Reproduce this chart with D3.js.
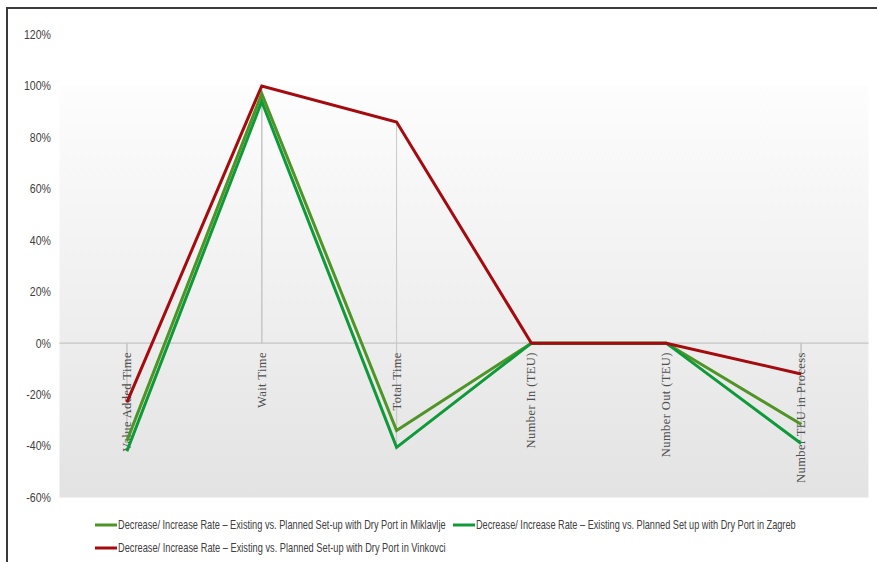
<!DOCTYPE html>
<html>
<head>
<meta charset="utf-8">
<script src="https://cdn.jsdelivr.net/npm/d3@7"></script>
<style>
  html, body { margin: 0; padding: 0; background: #fff; }
  svg { display: block; }
</style>
</head>
<body>
<svg id="chart" width="877" height="562"></svg>
<script>
// Categories along the x axis
const categories = [
  "Value Added Time",
  "Wait Time",
  "Total Time",
  "Number In (TEU)",
  "Number Out (TEU)",
  "Number TEU in Process"
];

// Decrease / increase rates (%) per series
const miklavljeValues = [-38, 97, -34, 0, 0, -31.5];
const zagrebValues    = [-42, 94, -40.5, 0, 0, -39];
const vinkovciValues  = [-23, 100, 86, 0, 0, -12];

const seriesNames = [
  "Decrease/ Increase Rate \u2013 Existing vs. Planned Set-up with Dry Port in Miklavlje",
  "Decrease/ Increase Rate \u2013 Existing vs. Planned Set up with Dry Port in Zagreb",
  "Decrease/ Increase Rate \u2013 Existing vs. Planned Set-up with Dry Port in Vinkovci"
];

const yTickValues = [-60, -40, -20, 0, 20, 40, 60, 80, 100, 120];

const series = [
  { name: seriesNames[0], values: miklavljeValues, color: "#4f9426" },
  { name: seriesNames[1], values: zagrebValues,    color: "#0f9a3a" },
  { name: seriesNames[2], values: vinkovciValues,  color: "#a50a0e" }
];

const svg = d3.select("#chart");

// Outer frame
svg.append("rect")
  .attr("x", 7).attr("y", 8)
  .attr("width", 900).attr("height", 600)
  .attr("fill", "none")
  .attr("stroke", "#3a3a3a")
  .attr("stroke-width", 2);

const plot = { left: 59.5, right: 868.5 };

const x = d3.scalePoint()
  .domain(categories)
  .range([plot.left, plot.right])
  .padding(0.5);

const y = d3.scaleLinear()
  .domain([-60, 120])
  .range([497.5, 34.5]);

// Plot-area background: light gradient from the 100% level down
const defs = svg.append("defs");
const grad = defs.append("linearGradient")
  .attr("id", "bg").attr("x1", 0).attr("y1", 0).attr("x2", 0).attr("y2", 1);
grad.append("stop").attr("offset", "0%").attr("stop-color", "#fdfdfd");
grad.append("stop").attr("offset", "100%").attr("stop-color", "#e3e3e3");

svg.append("rect")
  .attr("x", plot.left)
  .attr("y", y(100))
  .attr("width", plot.right - plot.left)
  .attr("height", y(-60) - y(100))
  .attr("fill", "url(#bg)");

// Y axis labels
const yAxis = d3.axisLeft(y)
  .tickValues(yTickValues)
  .tickFormat(d => d + "%")
  .tickSize(0)
  .tickPadding(0);

const yG = svg.append("g")
  .attr("transform", `translate(${51},0)`)
  .call(yAxis);
yG.select(".domain").remove();
yG.selectAll("text")
  .attr("fill", "#404040")
  .style("font-family", "'Liberation Sans', sans-serif")
  .style("font-size", "12px")
  .attr("transform", "scale(0.88,1)")
  .attr("x", 0);

// Drop lines from each point to the zero line
const drops = [];
series.forEach(s => s.values.forEach((v, i) => drops.push({ c: categories[i], v })));
svg.append("g")
  .selectAll("line")
  .data(drops)
  .join("line")
  .attr("x1", d => x(d.c)).attr("x2", d => x(d.c))
  .attr("y1", y(0)).attr("y2", d => y(d.v))
  .attr("stroke", "#c8c8c8")
  .attr("stroke-width", 1);

// Zero line (category axis)
svg.append("line")
  .attr("x1", plot.left).attr("x2", plot.right)
  .attr("y1", y(0)).attr("y2", y(0))
  .attr("stroke", "#c4c4c4")
  .attr("stroke-width", 1.2);

// Category labels, rotated
svg.append("g")
  .selectAll("text")
  .data(categories)
  .join("text")
  .attr("transform", d => `translate(${x(d) + 4},${y(0) + 9}) rotate(-90)`)
  .attr("text-anchor", "end")
  .attr("fill", "#505050")
  .style("font-family", "'Liberation Serif', serif")
  .style("font-size", "12.5px")
  .style("letter-spacing", "0.4px")
  .text(d => d);

// Series lines
const line = d3.line()
  .x((d, i) => x(categories[i]))
  .y(d => y(d));

svg.append("g")
  .selectAll("path")
  .data(series)
  .join("path")
  .attr("d", d => line(d.values))
  .attr("fill", "none")
  .attr("stroke", d => d.color)
  .attr("stroke-width", 3)
  .attr("stroke-linejoin", "miter");

// Legend
const legendItems = [
  { s: series[0], x: 95, y: 525, len: 328 },
  { s: series[1], x: 453, y: 525, len: 320 },
  { s: series[2], x: 95, y: 548, len: 328 }
];

const lg = svg.append("g").selectAll("g")
  .data(legendItems)
  .join("g")
  .attr("transform", d => `translate(${d.x},${d.y})`);

lg.append("line")
  .attr("x1", 0).attr("x2", 22)
  .attr("y1", 0).attr("y2", 0)
  .attr("stroke", d => d.s.color)
  .attr("stroke-width", 3);

// Condensed legend labels: full-height glyphs squeezed horizontally to fit their slot
lg.append("g")
  .attr("transform", "translate(23,4)")
  .append("text")
  .attr("fill", "#404040")
  .style("font-family", "'Liberation Sans', sans-serif")
  .style("font-size", "12px")
  .text(d => d.s.name)
  .each(function(d) {
    const w = this.getComputedTextLength();
    const k = Math.min(1, d.len / w);
    d3.select(this).attr("transform", `scale(${k.toFixed(4)},1)`);
  });
</script>
</body>
</html>
